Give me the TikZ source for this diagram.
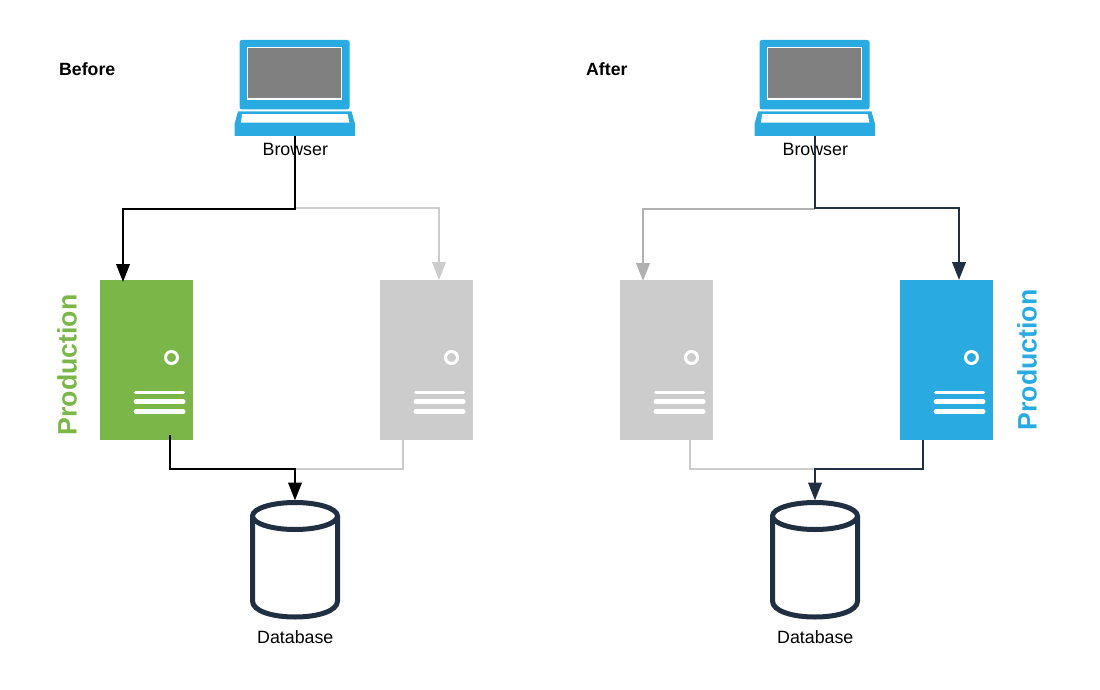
\documentclass[tikz,border=0pt]{standalone}
\usepackage{fontspec}
\setmainfont{Liberation Sans}
\usetikzlibrary{arrows.meta,calc}
\definecolor{cblue}{HTML}{29ABE2}
\definecolor{cgreen}{HTML}{7AB648}
\definecolor{cgrey}{HTML}{CCCCCC}
\definecolor{cscreen}{HTML}{808080}
\definecolor{cdark}{HTML}{212F42}
\definecolor{cmid}{HTML}{B0B0B0}
\tikzset{
  lbl/.style={font=\fontsize{17.8}{20}\selectfont,text=black,inner sep=0pt},
  head/.style={font=\fontsize{17.7}{20}\selectfont\bfseries,text=black,inner sep=0pt},
  prod/.style={font=\fontsize{26.7}{30}\selectfont\bfseries,inner sep=0pt,rotate=90},
  box/.style={minimum width=93pt,minimum height=160pt,inner sep=0pt,outer sep=0pt},
  ghost/.style={inner sep=0pt,outer sep=0pt},
  conn/.style={line width=2.3pt,line join=miter,-{Triangle[length=18pt,width=13.5pt]}},
  plain/.style={line width=2.3pt,line join=miter},
  dbline/.style={draw=cdark,line width=5pt,fill=white},
}
\newcommand{\laptop}[2]{%
  \begin{scope}[shift={(#1,0)}]
    \fill[cblue,rounded corners=2.5pt] (239.5,40) rectangle (349.5,109.5);
    \fill[white] (246.6,46.6) rectangle (342.4,100);
    \fill[cscreen] (248.2,48.2) rectangle (341,98.2);
    \fill[cblue] (238,111.5) -- (351.5,111.5) -- (355,124) -- (355,136) -- (234.5,136) -- (234.5,124) -- cycle;
    \fill[white] (242,114.2) -- (347.5,114.2) -- (349.5,122.7) -- (241,122.7) -- cycle;
    \node[ghost,minimum width=120pt,minimum height=25pt] (#2) at (295,123.5) {};
  \end{scope}}
\newcommand{\server}[3]{%
  \node[box,fill=#3,anchor=north west] (#2) at (#1,280) {};
  \begin{scope}[shift={(#1,0)}]
    \draw[white,line width=3pt,fill=none] (71.5,357.5) circle (6pt);
    \draw[white,line width=3.8pt,line cap=round] (35.8,392.5) -- (83.3,392.5);
    \draw[white,line width=4.4pt,line cap=round] (35.8,401.6) -- (83.3,401.6);
    \draw[white,line width=4.4pt,line cap=round] (35.8,411.6) -- (83.3,411.6);
  \end{scope}}
\newcommand{\database}[2]{%
  \begin{scope}[shift={(#1,0)}]
    \draw[dbline] (252.5,516) -- (252.5,601) .. controls (252.5,611) and (272,617) .. (295,617) .. controls (318,617) and (337.5,611) .. (337.5,601) -- (337.5,516);
    \draw[dbline] (295,516) ellipse (42.5pt and 13.5pt);
    \node[ghost,minimum width=89pt,minimum height=119pt] (#2) at (295,560) {};
  \end{scope}}
\begin{document}
\begin{tikzpicture}[x=1pt,y=-1pt]
\useasboundingbox (0,0) rectangle (1100,690);
\node[head,anchor=west] (before) at (59,69) {Before};
\node[head,anchor=west] (after) at (586,69) {After};
\laptop{0}{browserA}
\laptop{520}{browserB}
\node[lbl] (browserAlabel) at (295.3,149) {Browser};
\node[lbl] (browserBlabel) at (815.3,149) {Browser};
\server{100}{prodA}{cgreen}
\server{380}{idleA}{cgrey}
\server{620}{idleB}{cgrey}
\server{900}{prodB}{cblue}
\node[prod,text=cgreen] (prodAlabel) at (67,365) {Production};
\node[prod,text=cblue] (prodBlabel) at (1027,360) {Production};
\database{0}{dbA}
\database{520}{dbB}
\node[lbl] (dbAlabel) at (295.3,637.5) {Database};
\node[lbl] (dbBlabel) at (815.3,637.5) {Database};
% Before
\coordinate (forkA) at (295,208);
\coordinate (joinA) at (295,469);
\draw[conn,cgrey] (forkA) -| ($(idleA.north west)+(59,0)$);
\draw[plain,cgrey] ($(idleA.south west)+(23,0)$) |- (joinA);
\draw[conn,black] (browserA.south) -- (295,209) -| ($(prodA.north west)+(23,2)$);
\draw[conn,black] ($(prodA.south west)+(70,-5)$) |- (joinA) -- (dbA.north);
% After
\coordinate (forkB) at (815,208);
\coordinate (joinB) at (815,469);
\draw[conn,cmid] (815,209) -| ($(idleB.north west)+(23,1)$);
\draw[plain,cgrey] ($(idleB.south west)+(70,0)$) |- (joinB);
\draw[conn,cdark] (browserB.south) -- (forkB) -| ($(prodB.north west)+(59,0)$);
\draw[conn,cdark] ($(prodB.south west)+(23,0)$) |- (joinB) -- (dbB.north);
\end{tikzpicture}
\end{document}
